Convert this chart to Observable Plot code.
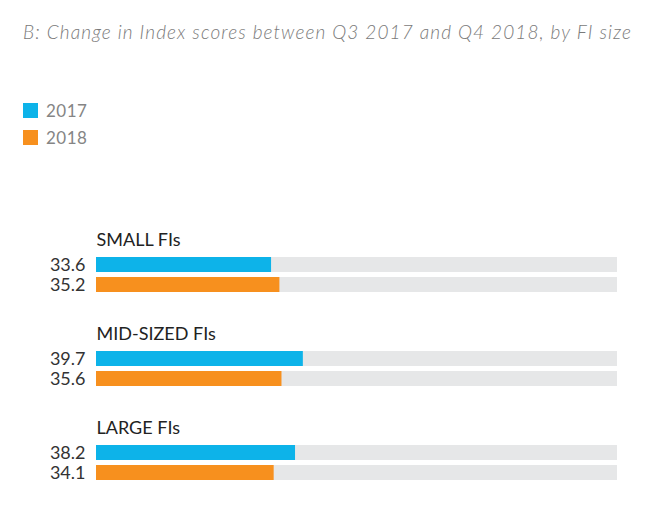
<!DOCTYPE html>
<html>
<head>
<meta charset="utf-8">
<script src="https://cdn.jsdelivr.net/npm/d3@7"></script>
<script src="https://cdn.jsdelivr.net/npm/@observablehq/plot@0.6"></script>
<style>
  html, body { margin: 0; padding: 0; background: #fff; }
  #wrap { position: relative; width: 656px; height: 522px; font-family: Lato, "Open Sans", sans-serif; }
  #title { position: absolute; left: 23px; top: 20px; font-size: 19px; letter-spacing: 1.1px; font-style: italic; font-weight: 300; color: #7a7a7a; white-space: nowrap; }
  .leg { position: absolute; left: 23px; display: flex; align-items: center; font-size: 17px; letter-spacing: 0.5px; color: #858585; }
  .leg span.sw { display: inline-block; width: 15px; height: 15px; margin-right: 8px; }
  #chart { position: absolute; left: 0; top: 0; }
</style>
</head>
<body>
<div id="wrap">
  <div id="chart"></div>
  <div id="title"></div>
  <div id="legend"></div>
</div>
<script>
const titleText = "B: Change in Index scores between Q3 2017 and Q4 2018, by FI size";
const groups = ["SMALL FIs", "MID-SIZED FIs", "LARGE FIs"];
const years = ["2017", "2018"];
const colors = ["#0db3e9", "#f7901e"];
const values2017 = [33.6, 39.7, 38.2];
const values2018 = [35.2, 35.6, 34.1];
const maxScore = 100;

document.getElementById("title").textContent = titleText;
const legend = document.getElementById("legend");
years.forEach((yr, i) => {
  const d = document.createElement("div");
  d.className = "leg";
  d.style.top = (100 + i * 27) + "px";
  d.innerHTML = `<span class="sw" style="background:${colors[i]}"></span><span>${yr}</span>`;
  legend.appendChild(d);
});

const data = [];
groups.forEach((g, i) => {
  data.push({group: g, year: years[0], value: values2017[i]});
  data.push({group: g, year: years[1], value: values2018[i]});
});

const chart = Plot.plot({
  width: 656,
  height: 522,
  marginLeft: 96,
  marginRight: 39,
  marginTop: 255,
  marginBottom: 41,
  style: {fontFamily: "Lato, 'Open Sans', sans-serif", background: "transparent"},
  x: {domain: [0, maxScore], axis: null},
  y: {domain: years, paddingInner: 0.238, paddingOuter: 0, axis: null},
  fy: {domain: groups, paddingInner: 0.6085, paddingOuter: 0, axis: null},
  color: {domain: years, range: colors},
  marks: [
    Plot.barX(data, {fy: "group", y: "year", x1: 0, x2: maxScore, fill: "#e6e7e8"}),
    Plot.barX(data, {fy: "group", y: "year", x1: 0, x2: "value", fill: "year"}),
    Plot.text(data, {fy: "group", y: "year", x: 0, text: d => d.value.toFixed(1), textAnchor: "end", dx: -11, fontSize: 18, fill: "#333"}),
    Plot.text(groups, {fy: d => d, text: d => d, frameAnchor: "top-left", lineAnchor: "bottom", dy: -11, fontSize: 18, fill: "#222"})
  ]
});
document.getElementById("chart").appendChild(chart);
</script>
</body>
</html>
